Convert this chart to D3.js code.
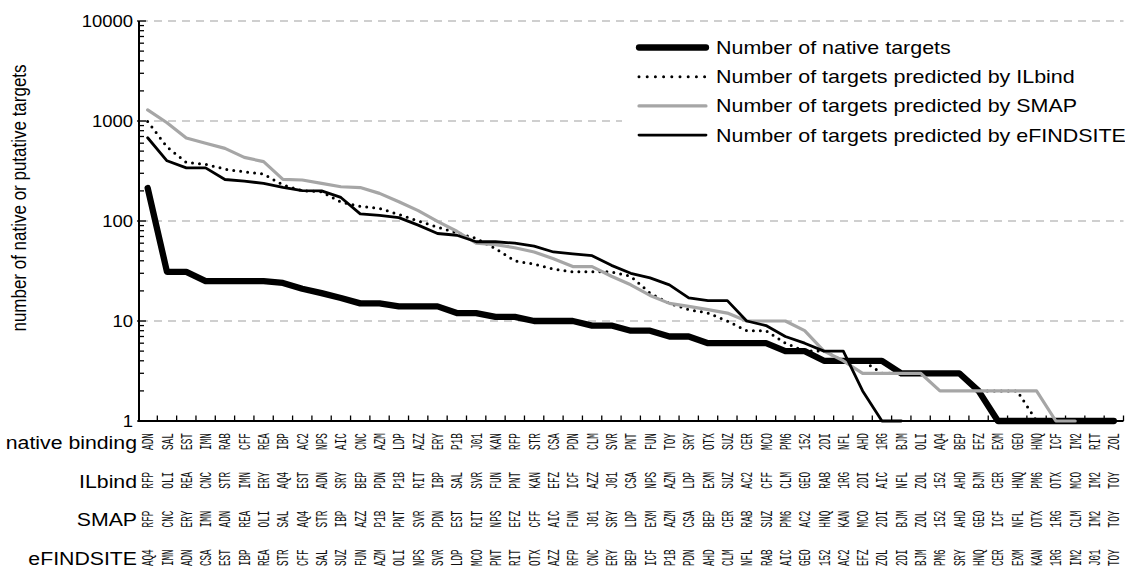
<!DOCTYPE html>
<html><head><meta charset="utf-8">
<script src="https://cdn.jsdelivr.net/npm/d3@7/dist/d3.min.js"></script>
<style>body{margin:0;background:#fff;} svg{display:block;}</style>
</head><body><svg id="c" width="1125" height="573"></svg>
<script>
// ---- data ----
const nativeLabels = ["ADN","SAL","EST","IMN","RAB","CFF","REA","IBP","AC2","NPS","AIC","CNC","AZM","LDP","AZZ","ERY","P1B","J01","KAN","RFP","STR","CSA","PDN","CLM","SVR","PNT","FUN","TOY","SRY","OTX","SUZ","CER","MCO","PM6","152","2DI","NFL","AHD","1RG","BJM","OLI","AQ4","BEP","EFZ","EXM","GEO","HNQ","ICF","IM2","RIT","ZOL"];
const ilbindLabels = ["RFP","OLI","REA","CNC","STR","IMN","ERY","AQ4","EST","ADN","SRY","BEP","PDN","P1B","RIT","IBP","SAL","SVR","FUN","PNT","KAN","EFZ","ICF","AZZ","J01","CSA","NPS","AZM","LDP","EXM","SUZ","AC2","CFF","CLM","GEO","RAB","1RG","2DI","AIC","NFL","ZOL","152","AHD","BJM","CER","HNQ","PM6","OTX","MCO","IM2","TOY"];
const smapLabels = ["RFP","CNC","ERY","IMN","ADN","REA","OLI","SAL","AQ4","STR","IBP","AZZ","P1B","PNT","SVR","PDN","EST","RIT","NPS","EFZ","CFF","AIC","FUN","J01","SRY","LDP","EXM","AZM","CSA","BEP","CER","RAB","SUZ","PM6","AC2","HNQ","KAN","MCO","2DI","BJM","ZOL","152","AHD","GEO","ICF","NFL","OTX","1RG","CLM","IM2","TOY"];
const efindLabels = ["AQ4","IMN","ADN","CSA","EST","IBP","REA","STR","CFF","SAL","SUZ","FUN","AZM","OLI","NPS","SVR","LDP","MCO","PNT","RIT","OTX","AZZ","RFP","CNC","ERY","BEP","ICF","P1B","PDN","AHD","CLM","NFL","RAB","AIC","GEO","152","AC2","EFZ","ZOL","2DI","BJM","PM6","SRY","HNQ","CER","EXM","KAN","1RG","IM2","J01","TOY"];

const nativeTargets = [214,31,31,25,25,25,25,24,21,19,17,15,15,14,14,14,12,12,11,11,10,10,10,9,9,8,8,7,7,6,6,6,6,5,5,4,4,4,4,3,3,3,3,2,1,1,1,1,1,1,1];
const ilbindTargets = [990,550,385,370,330,310,295,229,201,196,155,140,134,116,100,87,76,67,53,40,37,33,31,31,31,28,19,15,13,12,10,8,8,6,5,5,4,4,3,3,3,3,3,2,2,2,1,1,1,1,1];
const smapTargets = [1290,960,676,598,533,433,392,261,257,238,220,216,189,156,127,99,79,60,58,54,49,42,35,35,28,23,18,15,14,13,12,10,10,10,8,5,4,3,3,3,3,2,2,2,2,2,2,1,1,null,null];
const efindsiteTargets = [680,400,340,340,260,250,238,217,201,200,172,118,114,108,91,75,72,62,62,60,56,49,47,45,36,30,27,23,17,16,16,10,9,7,6,5,5,2,1,1,null,null,null,null,null,null,null,null,null,null,null];

const yTickLabels = ["1","10","100","1000","10000"];
const rowTitles = ["native binding","ILbind","SMAP","eFINDSITE"];
const legendLabels = ["Number of native targets","Number of targets predicted by ILbind","Number of targets predicted by SMAP","Number of targets predicted by eFINDSITE"];

// ---- layout ----
const svg = d3.select("#c");
const sans = "'Liberation Sans', Arial, sans-serif";
const mono = "'Liberation Mono', 'Courier New', monospace";
const n = nativeLabels.length;
const x = d3.scaleBand().domain(d3.range(n)).range([138, 1123.5]).padding(0);
const bw = x.bandwidth();
const cx = i => x(i) + bw / 2;
const y = d3.scaleLog().domain([1, 10000]).range([421, 21]);

// gridlines
svg.append("g").selectAll("line").data(yTickLabels.slice(1).map(Number)).join("line")
  .attr("x1", 140).attr("x2", 1123.5).attr("y1", d => y(d)).attr("y2", d => y(d))
  .attr("stroke", "#c0c0c0").attr("stroke-width", 1.6).attr("stroke-dasharray", "8,6");

// y axis minor/major ticks
const allTicks = y.ticks();
svg.append("g").selectAll("line").data(allTicks).join("line")
  .attr("x1", d => Number.isInteger(Math.log10(d)) ? 137 : 139)
  .attr("x2", d => Number.isInteger(Math.log10(d)) ? 146 : 144)
  .attr("y1", d => y(d)).attr("y2", d => y(d))
  .attr("stroke", "#000").attr("stroke-width", 1.3);
svg.append("line").attr("x1", 139).attr("x2", 139).attr("y1", y(10000)).attr("y2", y(1) + 1)
  .attr("stroke", "#000").attr("stroke-width", 2);

svg.append("g").selectAll("text").data(yTickLabels).join("text")
  .attr("transform", d => `translate(133,${y(+d)}) scale(1.12,1)`)
  .attr("text-anchor", "end").attr("dominant-baseline", "central")
  .attr("font-family", sans).attr("font-size", 16.5).attr("fill", "#000").text(d => d);

// y title
svg.append("text")
  .attr("transform", "translate(19,198) scale(1.15,1) rotate(-90)")
  .attr("text-anchor", "middle").attr("dominant-baseline", "central")
  .attr("font-family", sans).attr("font-size", 17).attr("fill", "#000")
  .text("number of native or putative targets");

// x axis
svg.append("line").attr("x1", 138).attr("x2", 1123.5).attr("y1", 421).attr("y2", 421)
  .attr("stroke", "#000").attr("stroke-width", 2);
svg.append("g").selectAll("line").data(d3.range(n)).join("line")
  .attr("x1", i => x(i) + bw).attr("x2", i => x(i) + bw).attr("y1", 421).attr("y2", 415.5)
  .attr("stroke", "#000").attr("stroke-width", 1.3);

// category label rows
const rows = [nativeLabels, ilbindLabels, smapLabels, efindLabels];
const rowY = [441.5, 480.3, 519, 557.7];
rows.forEach((labels, r) => {
  svg.append("g").selectAll("text").data(labels).join("text")
    .attr("transform", (d, i) => `translate(${cx(i) + 1.2},${rowY[r]}) rotate(-90) scale(0.55,1)`)
    .attr("text-anchor", "middle").attr("dominant-baseline", "central")
    .attr("font-family", mono).attr("font-size", 17).attr("fill", "#111").text(d => d);
  svg.append("text")
    .attr("transform", `translate(137,${rowY[r] + 1}) scale(1.15,1)`)
    .attr("text-anchor", "end").attr("dominant-baseline", "central")
    .attr("font-family", sans).attr("font-size", 18.5).attr("fill", "#000").text(rowTitles[r]);
});

// series
const styles = [
  {data: nativeTargets, color: "#000", width: 6.3, dash: null},
  {data: ilbindTargets, color: "#000", width: 3, dash: "0,7"},
  {data: smapTargets, color: "#a6a6a6", width: 3.2, dash: null},
  {data: efindsiteTargets, color: "#000", width: 2.8, dash: null}
];
const line = d3.line().defined(d => d != null).x((d, i) => cx(i)).y(d => y(d));
styles.forEach(s => {
  svg.append("path").attr("d", line(s.data)).attr("fill", "none")
    .attr("stroke", s.color).attr("stroke-width", s.width)
    .attr("stroke-linejoin", "round").attr("stroke-linecap", "round")
    .attr("stroke-dasharray", s.dash);
});

// legend
const lg = svg.append("g");
lg.append("rect").attr("x", 622).attr("y", 30).attr("width", 503).attr("height", 120).attr("fill", "#fff");
styles.forEach((s, r) => {
  const ly = 47.5 + 29.2 * r;
  lg.append("line").attr("x1", 639).attr("x2", 706).attr("y1", ly).attr("y2", ly)
    .attr("stroke", s.color).attr("stroke-width", r === 1 ? 3 : s.width)
    .attr("stroke-linecap", "round").attr("stroke-dasharray", r === 1 ? "0,8.2" : null);
  lg.append("text").attr("transform", `translate(716,${ly}) scale(1.16,1)`)
    .attr("dominant-baseline", "central").attr("font-family", sans).attr("font-size", 18.5)
    .attr("fill", "#000").text(legendLabels[r]);
});
</script></body></html>
